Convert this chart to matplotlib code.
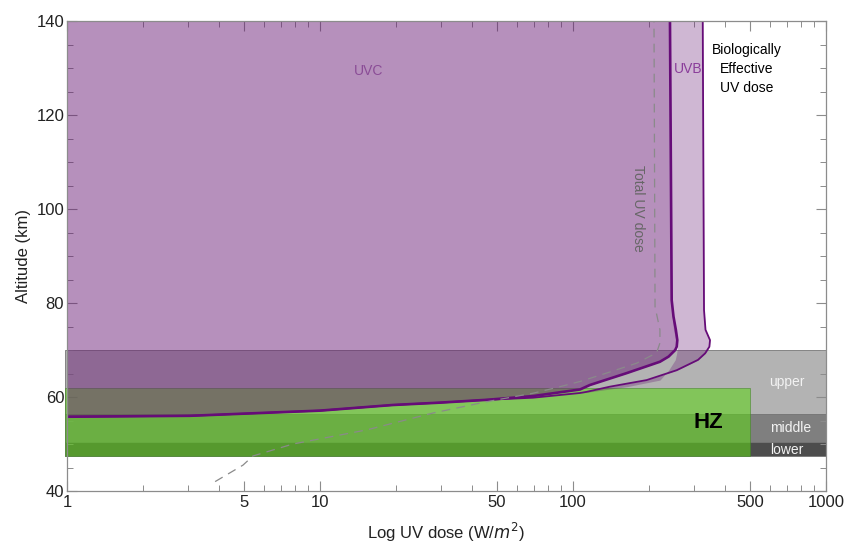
import numpy as np
import matplotlib
matplotlib.use("Agg")
import matplotlib.pyplot as plt
from matplotlib.ticker import FixedLocator, FixedFormatter, NullFormatter

plt.rcParams['font.family'] = ['Liberation Sans', 'DejaVu Sans']

# ---------------- data ----------------
# UVC boundary (inner solid curve): altitude (km) and dose (W/m^2)
uvc_alt = [55.8, 56.0, 57.1, 58.3, 58.8, 59.4, 60.2, 61.6, 62.55, 65.1, 67.5,
           68.6, 70.0, 70.7, 72.1, 74.3, 77.1, 80.6, 140.0]
uvc_dose = [1.0, 3.06, 10.0, 19.4, 29.8, 45.6, 69.5, 106.6, 116.6, 163.4, 220.6,
            238.7, 253.5, 257.0, 258.4, 255.0, 249.6, 245.5, 241.7]

# UVB boundary (outer solid curve, biologically effective limit)
uvb_alt = [55.8, 56.0, 57.1, 58.3, 58.8, 59.4, 59.85, 60.85, 61.1, 62.2, 63.6,
           65.7, 67.9, 69.3, 70.7, 72.1, 74.3, 78.5, 140.0]
uvb_dose = [1.0, 3.06, 10.0, 19.4, 29.8, 45.6, 69.5, 106.6, 113.3, 140.0, 195.5,
            257.0, 312.0, 333.0, 346.0, 348.0, 334.0, 329.5, 325.7]

# Total UV dose (dashed)
tot_alt = [42.0, 45.5, 47.45, 50.0, 51.1, 53.0, 56.6, 59.0, 60.8, 62.2, 63.3,
           65.1, 67.2, 69.4, 71.5, 74.3, 79.2, 140.0]
tot_dose = [3.85, 4.96, 5.43, 7.82, 10.0, 15.3, 28.0, 45.6, 69.5, 88.9, 106.6,
            135.9, 178.6, 214.0, 220.6, 220.6, 211.0, 209.0]

# Cloud layers (km)
layer_names = ["upper", "middle", "lower"]
layer_top = [70.0, 56.4, 50.4]
layer_bottom = [56.4, 50.4, 47.5]
layer_colors = ["#b3b3b3", "#7f7f7f", "#4d4d4d"]

# Habitable zone
hz_top = 62.0
hz_bottom = 47.5
hz_dose_max = 500

xtick_vals = [1, 5, 10, 50, 100, 500, 1000]
xtick_labels = ["1", "5", "10", "50", "100", "500", "1000"]
ytick_vals = [40, 60, 80, 100, 120, 140]

# ---------------- figure ----------------
fig = plt.figure(figsize=(8.46, 5.44), dpi=100)
ax = fig.add_axes([67/846, 53/544, (826-67)/846, (491-21)/544])
ax.set_xscale('log')
ax.set_xlim(1, 1000)
ax.set_ylim(40, 140)

xleft = 0.982
# cloud layers
for top, bot, col in zip(layer_top, layer_bottom, layer_colors):
    ax.fill_between([xleft, 1000], [bot, bot], [top, top], color=col,
                    edgecolor="#777777", linewidth=0.6, zorder=1, clip_on=False)

# HZ
ax.fill_between([xleft, hz_dose_max], [hz_bottom]*2, [hz_top]*2,
                facecolor=(93/255, 212/255, 23/255, 0.57),
                edgecolor=(0.25, 0.5, 0.15, 0.6), linewidth=0.6, zorder=2, clip_on=False)

purple = (103/255, 24/255, 115/255)
# UVB strip
ax.fill_betweenx(uvb_alt, uvc_dose, uvb_dose, color=purple, alpha=0.31,
                 linewidth=0, zorder=3)
# UVC region
ax.fill_betweenx(uvc_alt, [1.0]*len(uvc_alt), uvc_dose, color=purple, alpha=0.48,
                 linewidth=0, zorder=3)

line_col = "#660c78"
ax.plot(uvb_dose, uvb_alt, color=line_col, lw=1.3, zorder=5)
ax.plot(uvc_dose, uvc_alt, color=line_col, lw=1.9, zorder=5)
ax.plot(tot_dose, tot_alt, color="#8a8a8a", lw=0.9, ls=(0, (7, 5)), zorder=5)

# text labels
ax.text(15.6, 129.4, "UVC", color="#8a4c96", fontsize=10, ha='center', va='center', zorder=6)
ax.text(285, 129.8, "UVB", color="#8a3d9a", fontsize=10, ha='center', va='center', zorder=6)
ax.text(487, 129.8, "Biologically\nEffective\nUV dose", color="black", fontsize=10,
        ha='center', va='center', linespacing=1.45, zorder=6)
ax.text(181, 100.2, "Total UV dose", color="#666666", fontsize=10, rotation=-90,
        ha='center', va='center', zorder=6)
label_pos = {"upper": (701, 63.2), "middle": (727, 53.4), "lower": (701, 48.7)}
for name in layer_names:
    x, y = label_pos[name]
    ax.text(x, y, name, color="#f2f2f2", fontsize=10, ha='center', va='center', zorder=6)
ax.text(342, 54.5, "HZ", color="black", fontsize=16, fontweight='bold',
        ha='center', va='center', zorder=6)

# axes styling
for s in ax.spines.values():
    s.set_color("#8c8c8c")
    s.set_linewidth(0.9)
    s.set_zorder(7)

ax.xaxis.set_major_locator(FixedLocator(xtick_vals))
ax.xaxis.set_major_formatter(FixedFormatter(xtick_labels))
ax.xaxis.set_minor_locator(FixedLocator([v * m for v in [1, 10, 100] for m in range(2, 10) if v * m not in xtick_vals]))
ax.xaxis.set_minor_formatter(NullFormatter())
ax.yaxis.set_major_locator(FixedLocator(ytick_vals))
ax.yaxis.set_minor_locator(FixedLocator(np.arange(40, 141, 5)))

ax.tick_params(which='both', direction='in', top=True, right=True, color="#8c8c8c",
               labelsize=12, labelcolor="#222222")
ax.tick_params(which='major', length=7, width=0.8, pad=3)
ax.tick_params(which='minor', length=4, width=0.7)
ax.tick_params(axis='y', which='major', pad=2)

ax.set_xlabel("Log UV dose (W/$m^2$)", fontsize=12, color="#222222", labelpad=8)
ax.set_ylabel("Altitude (km)", fontsize=12, color="#222222", labelpad=4)

fig.savefig("out.png", dpi=100)
